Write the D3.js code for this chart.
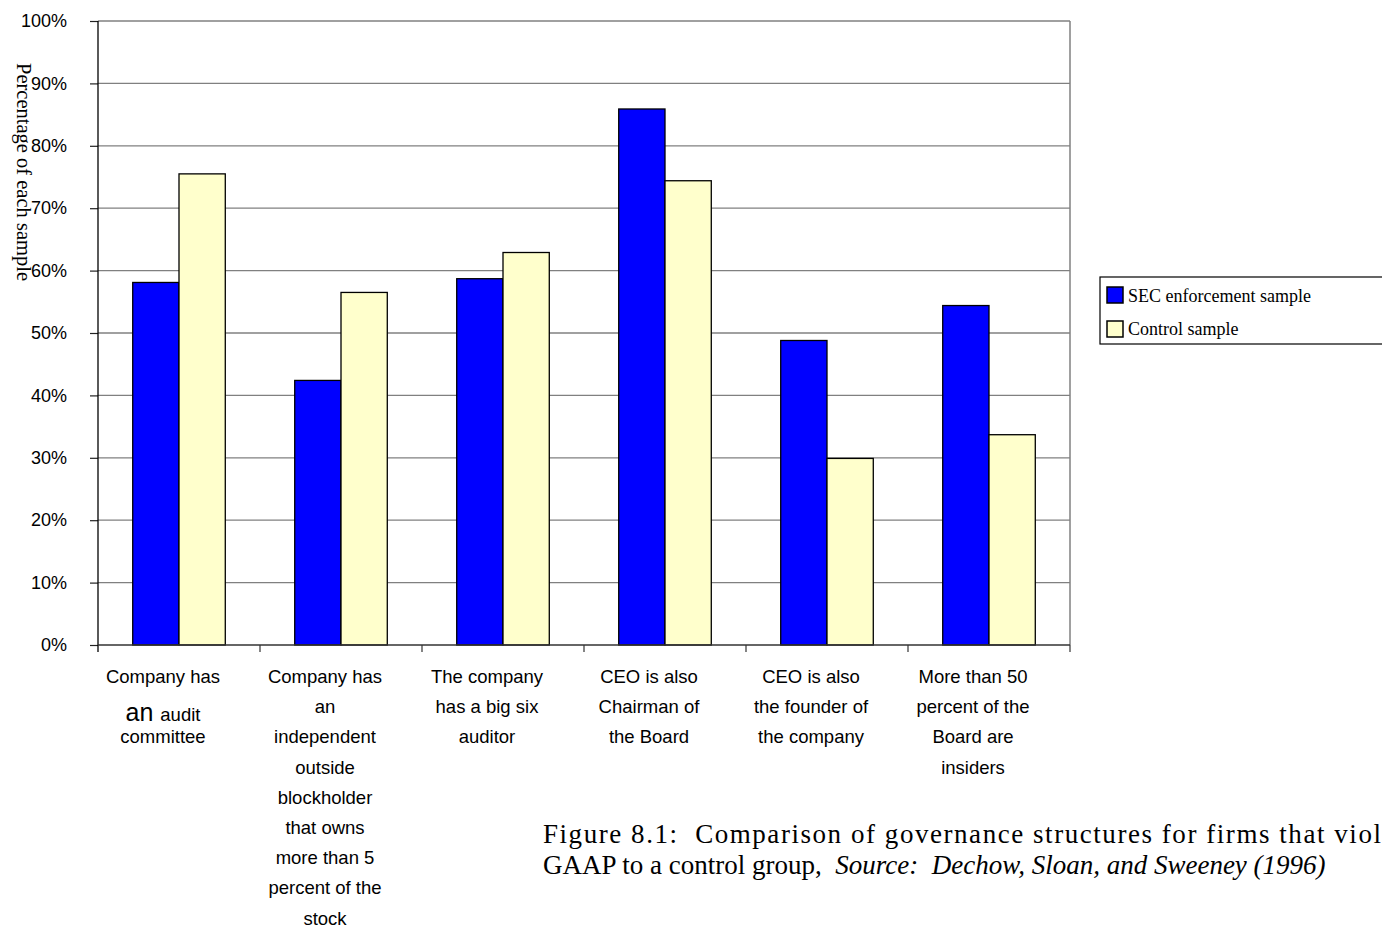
<!DOCTYPE html>
<html>
<head>
<meta charset="utf-8">
<script src="https://cdn.jsdelivr.net/npm/d3@7"></script>
<style>
  body { margin: 0; background: #fff; }
  svg { display: block; }
</style>
</head>
<body>
<div id="chart"></div>
<script>
// category labels, one array of wrapped lines per category
var categories = [
  ["Company has", "an audit", "committee"],
  ["Company has", "an", "independent", "outside", "blockholder", "that owns", "more than 5", "percent of the", "stock"],
  ["The company", "has a big six", "auditor"],
  ["CEO is also", "Chairman of", "the Board"],
  ["CEO is also", "the founder of", "the company"],
  ["More than 50", "percent of the", "Board are", "insiders"]
];
var seriesNames = ["SEC enforcement sample", "Control sample"];
var secValues = [58.1, 42.4, 58.7, 85.9, 48.8, 54.4];
var controlValues = [75.5, 56.5, 62.9, 74.4, 29.9, 33.7];
var yTicks = [0, 10, 20, 30, 40, 50, 60, 70, 80, 90, 100];
var colors = ["#0000ff", "#ffffcc"];

var W = 1382, H = 928;
var plot = { left: 98, right: 1070, top: 21, bottom: 645 };

var svg = d3.select("#chart").append("svg")
  .attr("width", W)
  .attr("height", H);

var x = d3.scaleBand()
  .domain(d3.range(categories.length))
  .range([plot.left, plot.right]);

var x1 = d3.scaleBand()
  .domain([0, 1])
  .range([0, x.bandwidth()])
  .paddingOuter(0.75);

var y = d3.scaleLinear()
  .domain([0, 100])
  .range([plot.bottom, plot.top]);

// gridlines
svg.append("g")
  .selectAll("line")
  .data(yTicks.filter(function(d) { return d > 0; }))
  .enter().append("line")
    .attr("x1", plot.left)
    .attr("x2", plot.right)
    .attr("y1", function(d) { return y(d); })
    .attr("y2", function(d) { return y(d); })
    .attr("stroke", "#808080")
    .attr("stroke-width", 1.3);

// right border
svg.append("line")
  .attr("x1", plot.right).attr("x2", plot.right)
  .attr("y1", plot.top).attr("y2", plot.bottom)
  .attr("stroke", "#808080")
  .attr("stroke-width", 1.5);

// bars
var groups = svg.append("g")
  .selectAll("g")
  .data(categories.map(function(c, i) { return [secValues[i], controlValues[i]]; }))
  .enter().append("g")
    .attr("transform", function(d, i) { return "translate(" + x(i) + ",0)"; });

groups.selectAll("rect")
  .data(function(d) { return d; })
  .enter().append("rect")
    .attr("x", function(d, j) { return x1(j); })
    .attr("y", function(d) { return y(d); })
    .attr("width", x1.bandwidth())
    .attr("height", function(d) { return y(0) - y(d); })
    .attr("fill", function(d, j) { return colors[j]; })
    .attr("stroke", "#000")
    .attr("stroke-width", 1.3);

// y axis
var yAxis = svg.append("g")
  .attr("transform", "translate(" + plot.left + ",0)")
  .call(d3.axisLeft(y)
    .tickValues(yTicks)
    .tickFormat(function(d) { return d + "%"; })
    .tickSize(8)
    .tickPadding(23));
yAxis.select(".domain").remove();
yAxis.selectAll(".tick line").attr("stroke", "#222").attr("stroke-width", 1.2);
yAxis.selectAll("text")
  .attr("font-family", "'Liberation Sans', Arial, sans-serif")
  .attr("font-size", 18)
  .attr("fill", "#000");

svg.append("line")
  .attr("x1", plot.left).attr("x2", plot.left)
  .attr("y1", plot.top).attr("y2", plot.bottom + 7)
  .attr("stroke", "#000")
  .attr("stroke-width", 1.3);

// x axis line and ticks at category boundaries
svg.append("line")
  .attr("x1", plot.left).attr("x2", plot.right)
  .attr("y1", plot.bottom).attr("y2", plot.bottom)
  .attr("stroke", "#333")
  .attr("stroke-width", 1.4);

var bounds = d3.range(1, categories.length).map(function(i) { return x(i); }).concat([plot.right]);
svg.append("g")
  .selectAll("line")
  .data(bounds)
  .enter().append("line")
    .attr("x1", function(d) { return d; })
    .attr("x2", function(d) { return d; })
    .attr("y1", plot.bottom)
    .attr("y2", plot.bottom + 7)
    .attr("stroke", "#333")
    .attr("stroke-width", 1.2);

// category labels
var labelFont = "'Liberation Sans', Arial, sans-serif";
var lineGap = 30.2, firstBase = 683;
categories.forEach(function(lines, i) {
  var cx = x(i) + x.bandwidth() / 2 - 16;
  lines.forEach(function(txt, k) {
    var t = svg.append("text")
      .attr("x", cx)
      .attr("y", (i === 0 && k === 1) ? firstBase + lineGap + 8 : firstBase + k * lineGap)
      .attr("text-anchor", "middle")
      .attr("font-family", labelFont)
      .attr("font-size", 18.5)
      .attr("fill", "#000");
    if (i === 0 && k === 1) {
      var parts = txt.split(" ");
      t.append("tspan").attr("font-size", 25).text(parts[0] + " ");
      t.append("tspan").text(parts.slice(1).join(" "));
    } else {
      t.text(txt);
    }
  });
});

// y axis title
svg.append("text")
  .attr("transform", "translate(17,63) rotate(90)")
  .attr("font-family", "'Liberation Serif', 'Times New Roman', serif")
  .attr("font-size", 20.5)
  .attr("fill", "#000")
  .text("Percentage of each sample");

// legend
var legend = svg.append("g").attr("transform", "translate(1100,277)");
legend.append("rect")
  .attr("width", 300).attr("height", 67)
  .attr("fill", "#fff")
  .attr("stroke", "#000")
  .attr("stroke-width", 1.2);
seriesNames.forEach(function(name, j) {
  legend.append("rect")
    .attr("x", 7).attr("y", 10 + j * 34)
    .attr("width", 16).attr("height", 16)
    .attr("fill", colors[j])
    .attr("stroke", "#000")
    .attr("stroke-width", 1.5);
  legend.append("text")
    .attr("x", 28).attr("y", 25 + j * 33)
    .attr("font-family", "'Liberation Serif', 'Times New Roman', serif")
    .attr("font-size", 18)
    .attr("fill", "#000")
    .text(name);
});

// caption (first line runs off the page in the original, so it stops at "viol")
var cap = svg.append("g")
  .attr("font-family", "'Liberation Serif', 'Times New Roman', serif")
  .attr("font-size", 27)
  .attr("fill", "#000");
cap.append("text")
  .attr("x", 543).attr("y", 843)
  .attr("letter-spacing", 1.55)
  .attr("xml:space", "preserve")
  .text("Figure 8.1:  Comparison of governance structures for firms that viol");
var cap2 = cap.append("text")
  .attr("x", 543).attr("y", 874)
  .attr("xml:space", "preserve");
cap2.append("tspan").text("GAAP to a control group,  ");
cap2.append("tspan").attr("font-style", "italic").text("Source:  Dechow, Sloan, and Sweeney (1996)");
</script>
</body>
</html>
